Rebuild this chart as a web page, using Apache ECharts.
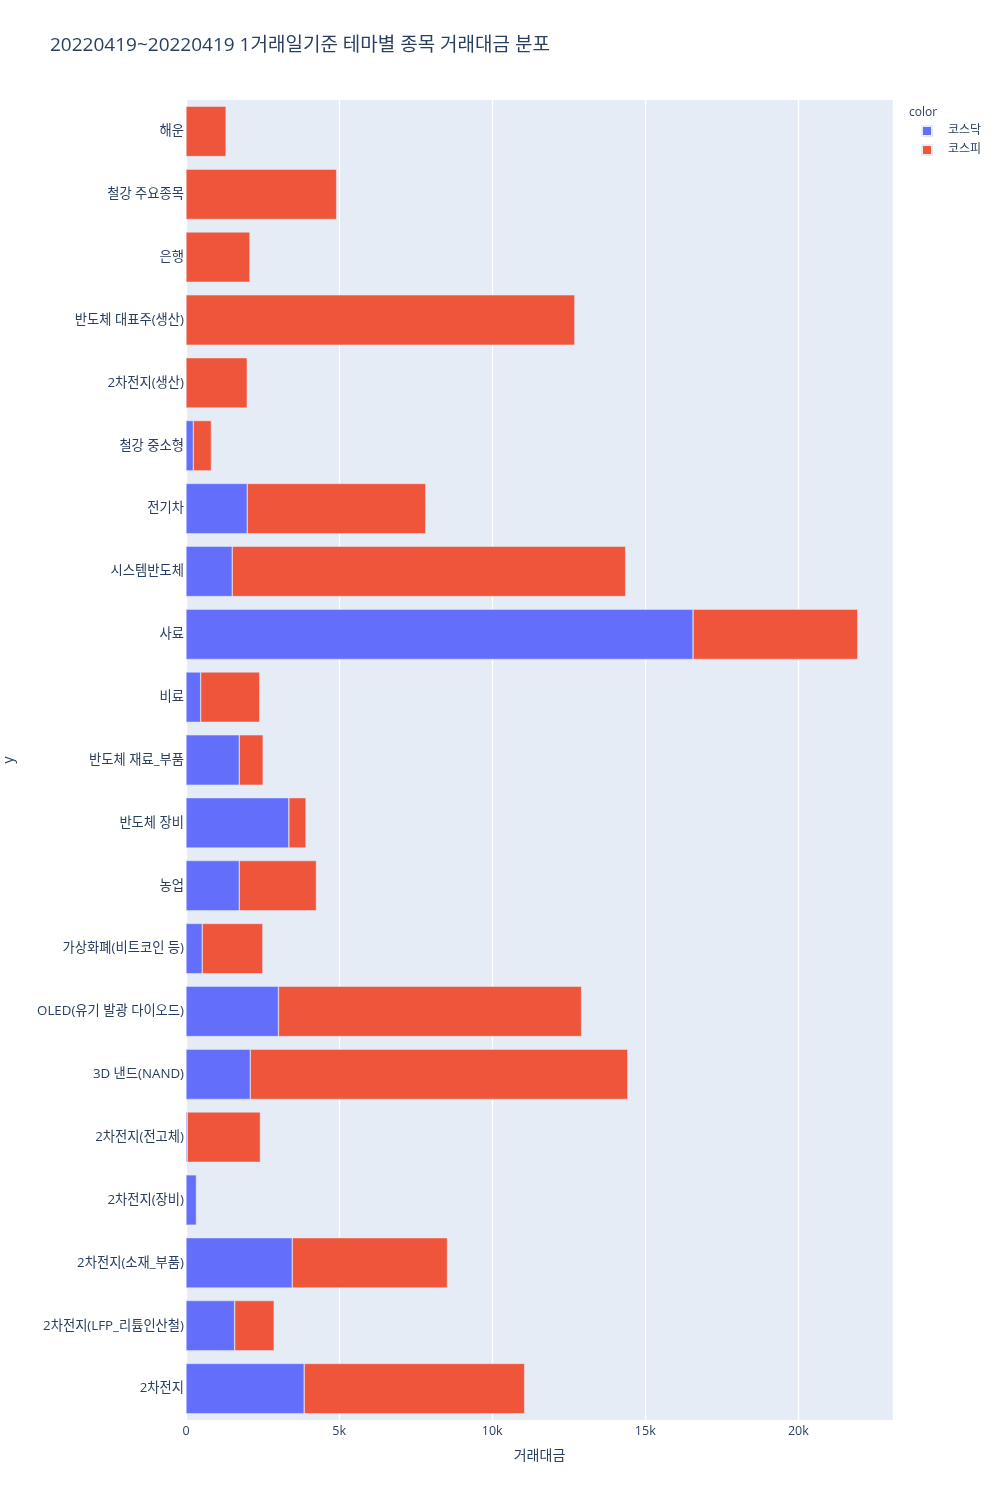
<!DOCTYPE html>
<html lang="ko">

<head>
    <meta charset="UTF-8">
    <title>테마별 종목 거래대금 분포</title>
    <script src="https://cdn.jsdelivr.net/npm/echarts@6/dist/echarts.min.js"></script>
    <style type="text/css">
        html, body {
            margin: 0;
            padding: 0;
            background: #fff;
        }
    </style>
</head>

<body>
    <div id="main" style="width: 1000px; height: 1500px;"></div>
    <script type="text/javascript">
        // 테마 (아래에서 위로)
        var themes = [
            '2차전지', '2차전지(LFP_리튬인산철)', '2차전지(소재_부품)', '2차전지(장비)', '2차전지(전고체)',
            '3D 낸드(NAND)', 'OLED(유기 발광 다이오드)', '가상화폐(비트코인 등)', '농업', '반도체 장비',
            '반도체 재료_부품', '비료', '사료', '시스템반도체', '전기차', '철강 중소형',
            '2차전지(생산)', '반도체 대표주(생산)', '은행', '철강 주요종목', '해운'
        ];
        // 거래대금 - 코스닥
        var kosdaq = [
            3860, 1590, 3470, 340, 40,
            2100, 3020, 530, 1740, 3360,
            1740, 480, 16560, 1510, 2000, 240,
            null, null, null, null, null
        ];
        // 거래대금 - 코스피
        var kospi = [
            7200, 1290, 5070, null, 2390,
            12330, 9900, 1980, 2520, 560,
            780, 1930, 5380, 12850, 5830, 590,
            2000, 12700, 2090, 4920, 1310
        ];
        var markets = ['코스닥', '코스피'];
        var xTicks = [0, 5000, 10000, 15000, 20000];

        var fontFamily = '"Open Sans", "Noto Sans CJK KR", sans-serif';
        var chart = echarts.init(document.getElementById('main'));

        var option = {
            backgroundColor: '#fff',
            textStyle: { fontFamily: fontFamily, color: '#2a3f5f' },
            title: [{
                text: '20220419~20220419 1거래일기준 테마별 종목 거래대금 분포',
                left: 45,
                top: 31,
                textStyle: { fontSize: 19, fontWeight: 'normal', color: '#2a3f5f', fontFamily: fontFamily }
            }, {
                text: 'color', //범례 제목
                left: 904,
                top: 102,
                textStyle: { fontSize: 12, fontWeight: 'normal', color: '#2a3f5f', fontFamily: fontFamily }
            }],
            legend: {
                data: markets,
                orient: 'vertical',
                left: 916,
                top: 119,
                itemWidth: 10,
                itemHeight: 10,
                itemGap: 5,
                icon: 'rect',
                textStyle: { fontSize: 12, color: '#2a3f5f', lineHeight: 14, padding: [0, 0, 0, 11] }
            },
            grid: {
                left: 186,
                right: 107,
                top: 100,
                bottom: 80,
                containLabel: false,
                outerBoundsMode: 'none',
                show: true,
                backgroundColor: '#E5ECF6',
                borderWidth: 0
            },
            xAxis: {
                type: 'value',
                min: 0,
                max: 23090,
                interval: 5000,
                name: '거래대금',
                nameLocation: 'middle',
                nameGap: 29,
                nameTextStyle: { fontSize: 14, color: '#2a3f5f' },
                axisLine: { show: false },
                axisTick: { show: false },
                axisLabel: {
                    fontSize: 12.5,
                    color: '#2a3f5f',
                    margin: 5,
                    showMaxLabel: false,
                    formatter: function (v) {
                        if (xTicks.indexOf(v) < 0) return '';
                        return v === 0 ? '0' : (v / 1000) + 'k';
                    }
                },
                splitLine: { show: true, lineStyle: { color: '#fff', width: 1.3 } }
            },
            yAxis: {
                type: 'category',
                data: themes,
                name: 'y',
                nameLocation: 'middle',
                nameRotate: 90,
                nameGap: 170,
                nameTextStyle: { fontSize: 14, color: '#2a3f5f' },
                axisLine: { show: false },
                axisTick: { show: false },
                axisLabel: { fontSize: 13.3, color: '#2a3f5f', margin: 2 },
                splitLine: { show: false }
            },
            series: [{
                name: markets[0],
                type: 'bar',
                stack: 'total',
                data: kosdaq,
                barCategoryGap: '20%',
                itemStyle: { color: '#636EFA', borderColor: '#E5ECF6', borderWidth: 0.5 }
            }, {
                name: markets[1],
                type: 'bar',
                stack: 'total',
                data: kospi,
                barCategoryGap: '20%',
                itemStyle: { color: '#EF553B', borderColor: '#E5ECF6', borderWidth: 0.5 }
            }]
        };
        chart.setOption(option);
    </script>
</body>

</html>
